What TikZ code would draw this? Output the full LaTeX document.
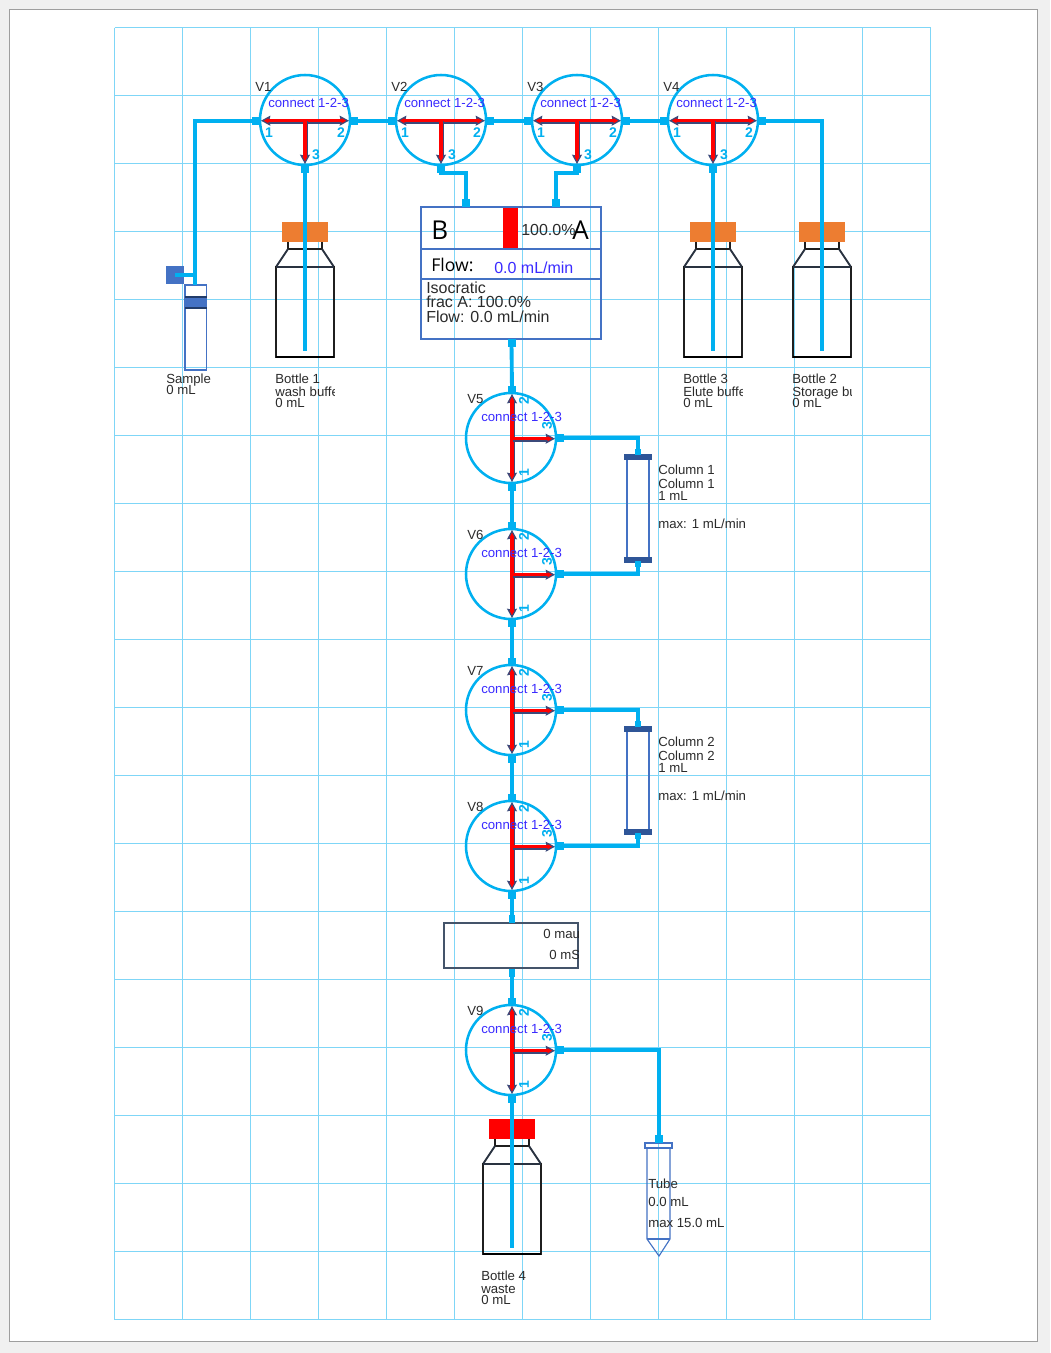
\documentclass[tikz,border=0pt]{standalone}
\usepackage{fontspec}
\setmainfont{Liberation Sans}
\newfontfamily\uifont{Open Sans}
\usetikzlibrary{arrows.meta}
\definecolor{tubec}{HTML}{00B0F0}
\definecolor{gridc}{HTML}{7FD6F7}
\definecolor{bluec}{HTML}{4472C4}
\definecolor{darkb}{HTML}{2F5597}
\definecolor{navyc}{HTML}{44546A}
\definecolor{txtc}{HTML}{2B2B2B}
\definecolor{linkc}{HTML}{3A2BFF}
\definecolor{capo}{HTML}{ED7D31}
\definecolor{arrowd}{HTML}{3B4A7A}
\tikzset{
  lab/.style={anchor=base west,inner sep=0pt,text=txtc,font=\fontsize{9.9}{11}\selectfont},
  linklab/.style={lab,text=linkc},
  biglab/.style={lab,font=\fontsize{12}{13}\selectfont},
  uilab/.style={lab,text=black,font=\uifont\fontsize{13.2}{14}\selectfont},
  letter/.style={lab,text=black,font=\uifont\fontsize{19.5}{20}\selectfont},
  numlab/.style={inner sep=0pt,text=tubec,font=\bfseries\fontsize{10.5}{11}\selectfont},
  valvec/.style={circle,draw=tubec,line width=1.9pt,minimum size=67.5pt,inner sep=0pt},
  port/.style={rectangle,fill=tubec,inner sep=0pt,minimum size=6pt},
  smallport/.style={rectangle,fill=tubec,inner sep=0pt,minimum size=4.5pt},
  tube/.style={draw=tubec,line width=2.9pt},
  thintube/.style={draw=tubec,line width=2.5pt},
  gridline/.style={draw=gridc,line width=0.85pt},
  darkarrow/.style={draw=arrowd,line width=3.6pt},
  darktip/.style={draw=arrowd,line width=0.9pt,-{Stealth[length=7pt,width=7.5pt,inset=0.8pt,fill=red]}},
  redarm/.style={draw=red,line width=2.6pt},
  blueline/.style={draw=bluec,line width=0.85pt},
  bottleline/.style={draw=black!88,line width=1.6pt},
  shoulder/.style={draw=navyc!60!black,line width=1.4pt},
}
\newcommand{\armto}[3]{% from, to, tip
  \draw[darkarrow] ([shift={(0.7,0.7)}]#1) -- ([shift={(0.7,0.7)}]#2);
  \draw[darktip] (#1) -- (#3);
  \draw[redarm] (#1) -- (#2);
}
\newcommand{\valveH}[4]{%
  \begin{scope}[shift={(#2,#3)}]
    \node[valvec] (#1) at (0,0) {};
    \node[port] (#1a) at (-49,0.7) {};
    \node[port] (#1b) at (49,0.7) {};
    \node[port] (#1c) at (0,49) {};
    \coordinate (#1j) at (0,0.7);
    \coordinate (#1la) at (-37,0.7); \coordinate (#1ta) at (-44,0.7);
    \coordinate (#1lb) at (37,0.7);  \coordinate (#1tb) at (44,0.7);
    \coordinate (#1lc) at (0,37);  \coordinate (#1tc) at (0,44);
    \armto{#1j}{#1la}{#1ta}
    \armto{#1j}{#1lb}{#1tb}
    \armto{#1j}{#1lc}{#1tc}
    \node[lab] (#1name) at (-50,-29) {#4};
    \node[linklab] (#1link) at (-37,-13) {connect 1-2-3};
    \node[numlab] (#1one) at (-36,13) {1};
    \node[numlab] (#1two) at (36,13) {2};
    \node[numlab] (#1three) at (11,35) {3};
  \end{scope}}
\newcommand{\valveV}[4]{%
  \begin{scope}[shift={(#2,#3)}]
    \node[valvec] (#1) at (0,0) {};
    \node[port] (#1a) at (1,49) {};
    \node[port] (#1b) at (1,-48) {};
    \node[port] (#1c) at (49,0) {};
    \coordinate (#1j) at (1,0.7);
    \coordinate (#1la) at (1,37);  \coordinate (#1ta) at (1,44);
    \coordinate (#1lb) at (1,-37); \coordinate (#1tb) at (1,-44);
    \coordinate (#1lc) at (37,0.7);  \coordinate (#1tc) at (44,0.7);
    \armto{#1j}{#1la}{#1ta}
    \armto{#1j}{#1lb}{#1tb}
    \armto{#1j}{#1lc}{#1tc}
    \node[lab] (#1name) at (-44,-35) {#4};
    \node[linklab] (#1link) at (-30,-17) {connect 1-2-3};
    \node[numlab,rotate=90] (#1one) at (13,35) {1};
    \node[numlab,rotate=90] (#1two) at (13,-37) {2};
    \node[numlab,rotate=90] (#1three) at (36,-12) {3};
  \end{scope}}
\newcommand{\bottlebody}[4]{% name, centre x, cap top y, cap colour
  \begin{scope}[shift={(#2,#3)}]
    \fill[#4] (-23,0) rectangle (23,20);
    \draw[bottleline] (-17,20) -- (-17,27) -- (17,27) -- (17,20);
    \draw[shoulder] (-17,27) -- (-29,45) (17,27) -- (29,45);
    \draw[bottleline] (-29,45) rectangle (29,135);
    \draw[draw=black,line width=2.2pt] (-29,135) -- (29,135);
    \draw[shoulder] (-29,45) -- (29,45);
    \coordinate (#1end) at (0,129);
  \end{scope}}
\newcommand{\columnbody}[2]{% name, top y
  \begin{scope}[shift={(638,#2)}]
    \draw[blueline] (-11,0) rectangle (11,103);
    \fill[darkb] (-14,-3) rectangle (14,3);
    \fill[darkb] (-14,100) rectangle (14,106);
    \node[smallport] (#1top) at (0,-5) {};
    \node[smallport] (#1bot) at (0,107) {};
  \end{scope}}
\begin{document}
\begin{tikzpicture}[x=0.75pt,y=-0.75pt]
\useasboundingbox (0,0) rectangle (1050,1353);
\fill[black!6] (0,0) rectangle (1050,1353);
\draw[fill=white,draw=black!38,line width=0.9pt] (9.5,9.5) rectangle (1037.5,1341.5);
% grid
\foreach \gx in {115,183,...,931} \draw[gridline] (\gx-0.5,27.5) -- (\gx-0.5,1319.5);
\foreach \gy in {28,96,...,1320} \draw[gridline] (114.5,\gy-0.5) -- (930.5,\gy-0.5);
% bottles
\bottlebody{bot1}{305}{222}{capo}
\bottlebody{bot3}{713}{222}{capo}
\bottlebody{bot2}{822}{222}{capo}
\bottlebody{bot4}{512}{1119}{red}
% sample
\draw[blueline] (185,285) rectangle (206.5,370);
\fill[bluec] (185,297) rectangle (206.5,308);
\draw[draw=darkb!70!black,line width=0.8pt] (185,297) -- (206.5,297) (185,308) -- (206.5,308);
\node[rectangle,fill=bluec,inner sep=0pt,minimum size=13.5pt] (sqr) at (175,275) {};
\coordinate (sqj) at (195,275);
\coordinate (sampletop) at (195,285);
% columns
\columnbody{cola}{457}
\columnbody{colb}{729}
% pump
\node[rectangle,draw=bluec,line width=0.85pt,minimum width=135pt,minimum height=99pt,inner sep=0pt] (pump) at (511,273) {};
\fill[red] (503,208) rectangle (518,248);
\draw[blueline] (421,249) -- (601,249) (421,279) -- (601,279);
\node[port] (pumpb) at (466,203) {};
\node[port] (pumpa) at (556,203) {};
\node[port] (pumpo) at (511.5,343) {};
% detector
\node[rectangle,draw=navyc,line width=1.2pt,minimum width=100.5pt,minimum height=34pt,inner sep=0pt] (det) at (511,945.5) {};
\node[rectangle,fill=tubec,inner sep=0pt,minimum width=4.5pt,minimum height=6.5pt] (deti) at (512,919) {};
\node[rectangle,fill=tubec,inner sep=0pt,minimum width=4.5pt,minimum height=6.5pt] (deto) at (512,973) {};
% tube fraction
\draw[blueline] (647,1148) -- (647,1239) -- (659,1256) -- (670,1239) -- (670,1148);
\draw[blueline] (647,1239) -- (670,1239);
\draw[blueline] (645,1143) rectangle (672,1148);
\node[port] (fract) at (659,1139) {};
% valves
\valveH{va}{305}{120}{V1}
\valveH{vb}{441}{120}{V2}
\valveH{vc}{577}{120}{V3}
\valveH{vd}{713}{120}{V4}
\valveV{ve}{511}{438}{V5}
\valveV{vf}{511}{574}{V6}
\valveV{vg}{511}{710}{V7}
\valveV{vh}{511}{846}{V8}
\valveV{vi}{511}{1050}{V9}
% horizontal connectors
\draw[tube] (vaa.center) -| (sampletop);
\draw[thintube] (sqr.center) -- (sqj);
\draw[tube] (vab.center) -- (vba.center);
\draw[tube] (vbb.center) -- (vca.center);
\draw[tube] (vcb.center) -- (vda.center);
\draw[tube] (vdb.center) -| (bot2end);
\draw[tube] (vac.center) -- (bot1end);
\draw[tube] (vdc.center) -- (bot3end);
\coordinate (elb) at (441,173);
\coordinate (elc) at (577,173);
\draw[thintube] (vbc.center) -- (elb) -| (pumpb.center);
\draw[thintube] (vcc.center) -- (elc) -| (pumpa.center);
% vertical connectors
\draw[tube] (pumpo.center) -- (veb.center);
\draw[tube] (vea.center) -- (vfb.center);
\draw[tube] (vfa.center) -- (vgb.center);
\draw[tube] (vga.center) -- (vhb.center);
\draw[tube] (vha.center) -- (deti.center);
\draw[tube] (deto.center) -- (vib.center);
\draw[tube] (via.center) -- (bot4end);
\draw[thintube] (vec.center) -| (colatop.center);
\draw[thintube] (vfc.center) -| (colabot.center);
\draw[thintube] (vgc.center) -| (colbtop.center);
\draw[thintube] (vhc.center) -| (colbbot.center);
\draw[tube] (vic.center) -| (fract.center);
% pump text
\node[letter] (tb) at (431,239) {B};
\node[letter] (ta) at (572,239) {A};
\node[biglab] (tpct) at (521,235) {100.0\%};
\node[uilab] (tflow) at (431,271) {Flow:};
\node[biglab,text=linkc] (tflowv) at (494,273) {0.0 mL/min};
\node[biglab] (tiso) at (426,293) {Isocratic};
\node[biglab] (tfrac) at (426,307) {frac A: 100.0\%};
\node[biglab] (tfl2) at (426,322) {Flow: 0.0 mL/min};
% sample label
\node[lab] (sl1) at (166,383) {Sample};
\node[lab] (sl2) at (166,394) {0 mL};
% bottle labels
\begin{scope}
\clip (270,370) rectangle (334,412);
\node[lab] (b1a) at (275,383) {Bottle 1};
\node[lab] (b1b) at (275,396) {wash buffe};
\node[lab] (b1c) at (275,407) {0 mL};
\end{scope}
\begin{scope}
\clip (678,370) rectangle (742,412);
\node[lab] (b3a) at (683,383) {Bottle 3};
\node[lab] (b3b) at (683,396) {Elute buffe};
\node[lab] (b3c) at (683,407) {0 mL};
\end{scope}
\begin{scope}
\clip (787,370) rectangle (851,412);
\node[lab] (b2a) at (792,383) {Bottle 2};
\node[lab] (b2b) at (792,396) {Storage bu};
\node[lab] (b2c) at (792,407) {0 mL};
\end{scope}
\node[lab] (b4a) at (481,1280) {Bottle 4};
\node[lab] (b4b) at (481,1293) {waste};
\node[lab] (b4c) at (481,1304) {0 mL};
% column labels
\node[lab] (ca1) at (658,474) {Column 1};
\node[lab] (ca2) at (658,488) {Column 1};
\node[lab] (ca3) at (658,500) {1 mL};
\node[lab] (ca4) at (658,528) {max: 1 mL/min};
\node[lab] (cb1) at (658,746) {Column 2};
\node[lab] (cb2) at (658,760) {Column 2};
\node[lab] (cb3) at (658,772) {1 mL};
\node[lab] (cb4) at (658,800) {max: 1 mL/min};
% detector text
\begin{scope}
\clip (500,925) rectangle (578.5,966);
\node[lab] (dt1) at (543,938) {0 mau};
\node[lab] (dt2) at (549,959) {0 mS};
\end{scope}
% tube text
\node[lab] (tu1) at (648,1188) {Tube};
\node[lab] (tu2) at (648,1206) {0.0 mL};
\node[lab] (tu3) at (648,1227) {max 15.0 mL};
\end{tikzpicture}
\end{document}
